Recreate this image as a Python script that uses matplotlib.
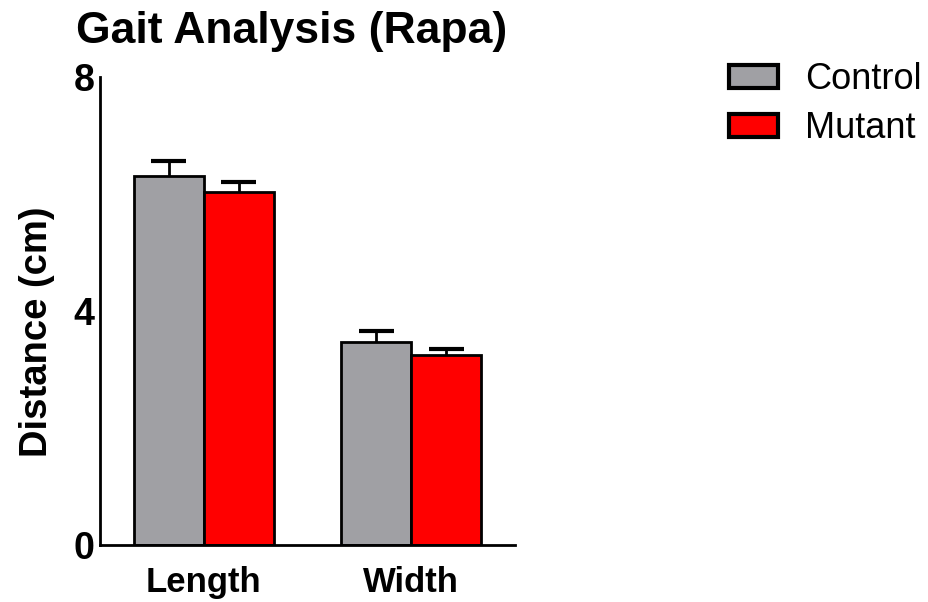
import numpy as np
import matplotlib
matplotlib.use("Agg")
import matplotlib.pyplot as plt
from matplotlib.patches import Patch

plt.rcParams['font.family'] = ['Liberation Sans', 'DejaVu Sans']

# gait measures, mean and SEM per group
measures = ['Length', 'Width']
control_mean = [6.31, 3.47]
control_sem = [0.25, 0.18]
mutant_mean = [6.03, 3.24]
mutant_sem = [0.17, 0.11]

GRAY = '#A0A0A4'
RED = '#FF0000'

fig = plt.figure(figsize=(9.29, 6.02), dpi=100)
ax = fig.add_axes([100 / 929, 57 / 602, 415 / 929, 468 / 602])

x = np.arange(len(measures))
width = 0.337
cap = 0.085


def draw_group(xpos, means, sems, color):
    ax.bar(xpos, means, width, color=color, edgecolor='black', linewidth=2, zorder=2)
    tops = np.array(means) + np.array(sems)
    # upper error only: stem from bar top plus a cap
    ax.vlines(xpos, means, tops, color='black', linewidth=2, zorder=1)
    ax.hlines(tops, xpos - cap, xpos + cap, color='black', linewidth=3, zorder=1)


draw_group(x - width / 2, control_mean, control_sem, GRAY)
draw_group(x + width / 2, mutant_mean, mutant_sem, RED)

ax.set_xlim(-0.5, 1.5)
ax.set_ylim(0, 8)
ax.set_yticks([0, 4, 8])
ax.set_xticks(x)
ax.set_xticklabels(measures, fontsize=25, fontweight='bold')
ax.tick_params(axis='y', labelsize=27, length=0, pad=4)
ax.tick_params(axis='x', length=0, pad=15)
for lbl in ax.get_yticklabels():
    lbl.set_fontweight('bold')

for side in ['top', 'right']:
    ax.spines[side].set_visible(False)
for side in ['left', 'bottom']:
    ax.spines[side].set_linewidth(2)

fig.text(37 / 929, 1 - 332 / 602, 'Distance (cm)', fontsize=27.5, fontweight='bold',
         rotation=90, ha='center', va='center')
fig.text(292 / 929, 1 - 43 / 602, 'Gait Analysis (Rapa)', fontsize=32, fontweight='bold',
         ha='center', va='baseline')

handles = [Patch(facecolor=GRAY, edgecolor='black', linewidth=3, label='Control'),
           Patch(facecolor=RED, edgecolor='black', linewidth=3, label='Mutant')]
fig.legend(handles=handles, loc='upper left', bbox_to_anchor=(729 / 929, 1 - 62 / 602),
           frameon=False, fontsize=26, handlelength=1.35, handleheight=0.6,
           handletextpad=0.75, labelspacing=0.4, borderpad=0, borderaxespad=0)

fig.savefig('out.png', dpi=100)
